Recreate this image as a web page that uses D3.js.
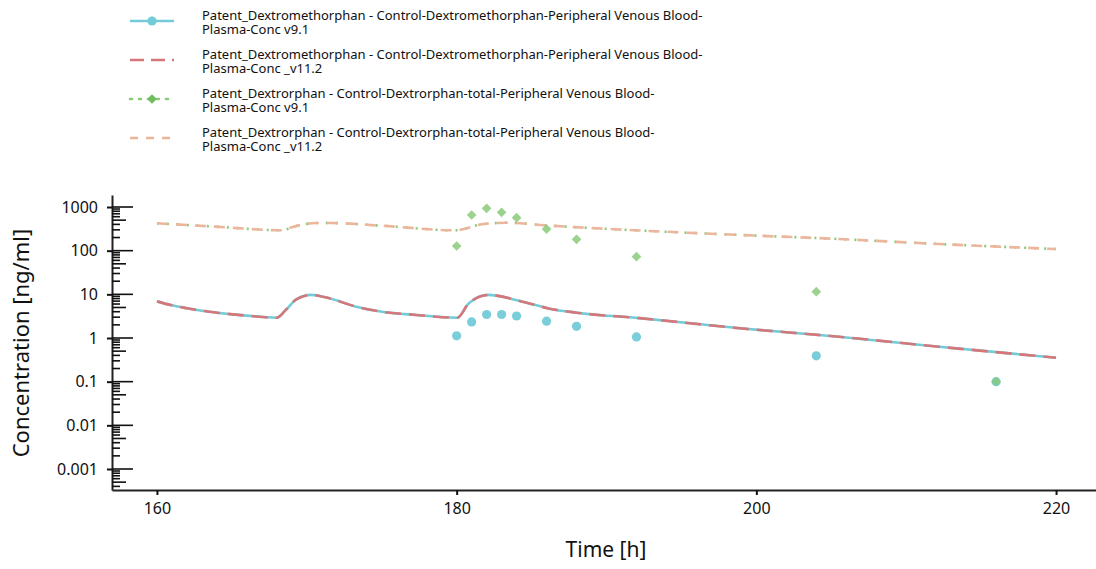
<!DOCTYPE html>
<html>
<head>
<meta charset="utf-8">
<script src="https://cdn.jsdelivr.net/npm/d3@7"></script>
<style>
  body { margin: 0; background: #fff; }
  svg { display: block; font-family: 'Noto Sans', sans-serif; }
</style>
</head>
<body>
<div id="chart"></div>
<script>
// Data
const seriesNames = [
  ['Patent_Dextromethorphan - Control-Dextromethorphan-Peripheral Venous Blood-', 'Plasma-Conc v9.1'],
  ['Patent_Dextromethorphan - Control-Dextromethorphan-Peripheral Venous Blood-', 'Plasma-Conc _v11.2'],
  ['Patent_Dextrorphan - Control-Dextrorphan-total-Peripheral Venous Blood-', 'Plasma-Conc v9.1'],
  ['Patent_Dextrorphan - Control-Dextrorphan-total-Peripheral Venous Blood-', 'Plasma-Conc _v11.2']
]

// simulated Dextromethorphan (v9.1 and v11.2 overlap)
const dmSimTime = [160, 161, 162, 163, 164, 166, 168, 168.6, 169.3, 170.3, 171.5, 173.3, 175, 177.3, 180.05, 180.8, 182.1, 184.4, 186.2, 188, 192.2, 198.9, 205.5, 212.2, 220]
const dmSimConc = [6.9, 5.6, 4.8, 4.2, 3.8, 3.25, 2.92, 4.4, 7.7, 9.7, 8.1, 5.2, 4.0, 3.37, 2.92, 6.2, 9.7, 6.8, 4.7, 3.8, 2.85, 1.67, 1.07, 0.63, 0.354]

// simulated Dextrorphan (v9.1 and v11.2 overlap)
const dxSimTime = [160, 163.9, 168.4, 169.0, 170.6, 171.6, 175, 179.9, 181.7, 183.4, 185.6, 192.2, 198.9, 205.5, 212.2, 220]
const dxSimConc = [423, 355, 293, 343, 430, 430, 373, 293, 402, 437, 387, 290, 229, 185, 142, 109]

// observed
const obsTime = [180, 181, 182, 183, 184, 186, 188, 192, 204, 216]
const dmObs = [1.12, 2.33, 3.45, 3.45, 3.19, 2.43, 1.85, 1.06, 0.39, 0.1]
const dxObs = [128, 656, 933, 756, 569, 313, 182, 73, 11.5, 0.1]

const xTicks = [160, 180, 200, 220]
const yTicks = [0.001, 0.01, 0.1, 1, 10, 100, 1000]

// Dimensions
const width = 1096
const height = 569

const cyan = '#72cbd7'
const red = '#d5767a'
const green = '#8bca79'
const orange = '#ebb69c'

const svg = d3.select('#chart')
  .append('svg')
  .attr('width', width)
  .attr('height', height)

// Scales
const xScale = d3.scaleLinear().domain([157, 223]).range([112, 1101])
const yScale = d3.scaleLog()
  .domain([Math.pow(10, -3.481), Math.pow(10, 3.275)])
  .range([490, 195])

const line = d3.line()
  .x((d) => xScale(d[0]))
  .y((d) => yScale(d[1]))
  .curve(d3.curveMonotoneX)

const dmSim = dmSimTime.map((t, i) => [t, dmSimConc[i]])
const dxSim = dxSimTime.map((t, i) => [t, dxSimConc[i]])

const plot = svg.append('g')

// lines
plot.append('path').datum(dmSim).attr('d', line)
  .attr('fill', 'none').attr('stroke', cyan).attr('stroke-width', 2.6)
plot.append('path').datum(dmSim).attr('d', line)
  .attr('fill', 'none').attr('stroke', red).attr('stroke-width', 2.6)
  .attr('stroke-dasharray', '16,8')
plot.append('path').datum(dxSim).attr('d', line)
  .attr('fill', 'none').attr('stroke', green).attr('stroke-width', 2.6)
  .attr('stroke-dasharray', '2,8')
plot.append('path').datum(dxSim).attr('d', line)
  .attr('fill', 'none').attr('stroke', orange).attr('stroke-width', 2.6)
  .attr('stroke-dasharray', '11,8')

// points
plot.selectAll('.dm').data(obsTime).join('circle')
  .attr('cx', (d) => xScale(d))
  .attr('cy', (d, i) => yScale(dmObs[i]))
  .attr('r', 4.6)
  .attr('fill', cyan)
  .attr('opacity', 0.95)

const diamond = d3.symbol().type(d3.symbolDiamond2).size(60)
plot.selectAll('.dx').data(obsTime).join('path')
  .attr('d', diamond)
  .attr('transform', (d, i) => `translate(${xScale(d)},${yScale(dxObs[i])})`)
  .attr('fill', green)
  .attr('opacity', 0.85)

// Axes
const fmt = (d) => d >= 1 ? d3.format('d')(d) : String(d)
const yAxis = d3.axisLeft(yScale).tickValues(yTicks).tickFormat(fmt)
  .tickSize(5).tickSizeOuter(0).tickPadding(9)
const yG = svg.append('g').attr('transform', 'translate(112,0)').call(yAxis)
yG.select('.domain').attr('stroke', '#222').attr('stroke-width', 2)
yG.selectAll('.tick line').attr('stroke', '#111').attr('stroke-width', 2)
yG.selectAll('.tick text').attr('font-size', 16).attr('fill', '#111')
  .attr('font-family', "'Noto Sans', sans-serif")

// log ticks inside
const logTicks = []
for (let e = -4; e <= 3; e++) {
  for (let k = 1; k <= 9; k++) {
    const v = k * Math.pow(10, e)
    const [lo, hi] = yScale.domain()
    if (v >= lo && v <= hi) logTicks.push({ v, k })
  }
}
svg.append('g').selectAll('line').data(logTicks).join('line')
  .attr('x1', 112)
  .attr('x2', (d) => 112 + (d.k === 1 ? 21 : d.k === 5 ? 14 : 8))
  .attr('y1', (d) => yScale(d.v))
  .attr('y2', (d) => yScale(d.v))
  .attr('stroke', '#111')
  .attr('stroke-width', 1.6)

const xAxis = d3.axisBottom(xScale).tickValues(xTicks)
  .tickSize(5).tickSizeOuter(0).tickPadding(8)
const xG = svg.append('g').attr('transform', 'translate(0,490)').call(xAxis)
xG.select('.domain').attr('stroke', '#222').attr('stroke-width', 2)
xG.selectAll('.tick line').attr('stroke', '#111').attr('stroke-width', 2)
xG.selectAll('.tick text').attr('font-size', 16).attr('fill', '#111')
  .attr('font-family', "'Noto Sans', sans-serif")

// axis titles
svg.append('text')
  .attr('transform', 'translate(29,343) rotate(-90)')
  .attr('text-anchor', 'middle')
  .attr('font-size', 22)
  .attr('fill', '#111')
  .text('Concentration [ng/ml]')

svg.append('text')
  .attr('x', 606)
  .attr('y', 557)
  .attr('text-anchor', 'middle')
  .attr('font-size', 21)
  .attr('fill', '#111')
  .text('Time [h]')

// Legend
const legend = svg.append('g')
const rowY = [21, 60, 99, 138]
const keyStyles = [
  { color: cyan, dash: null, marker: 'circle' },
  { color: red, dash: '14,7', marker: null },
  { color: green, dash: '2,7', marker: 'diamond' },
  { color: orange, dash: '8,8', marker: null }
]
seriesNames.forEach((lines, i) => {
  const g = legend.append('g').attr('transform', `translate(0,${rowY[i]})`)
  const s = keyStyles[i]
  g.append('line')
    .attr('x1', 130).attr('x2', 174).attr('y1', 0).attr('y2', 0)
    .attr('stroke', s.color).attr('stroke-width', 2.6)
    .attr('stroke-dasharray', s.dash)
    .attr('stroke-linecap', s.marker === 'diamond' ? 'round' : 'butt')
  if (s.marker === 'circle') {
    g.append('circle').attr('cx', 152).attr('cy', 0).attr('r', 4.6).attr('fill', s.color)
  } else if (s.marker === 'diamond') {
    g.append('path').attr('d', diamond).attr('transform', 'translate(152,0)').attr('fill', '#6fbd5f')
  }
  const txt = g.append('text')
    .attr('font-size', 13).attr('fill', '#111')
  txt.append('tspan').attr('x', 202).attr('y', -1.5).text(lines[0])
  txt.append('tspan').attr('x', 202).attr('y', 13).text(lines[1])
})
</script>
</body>
</html>
